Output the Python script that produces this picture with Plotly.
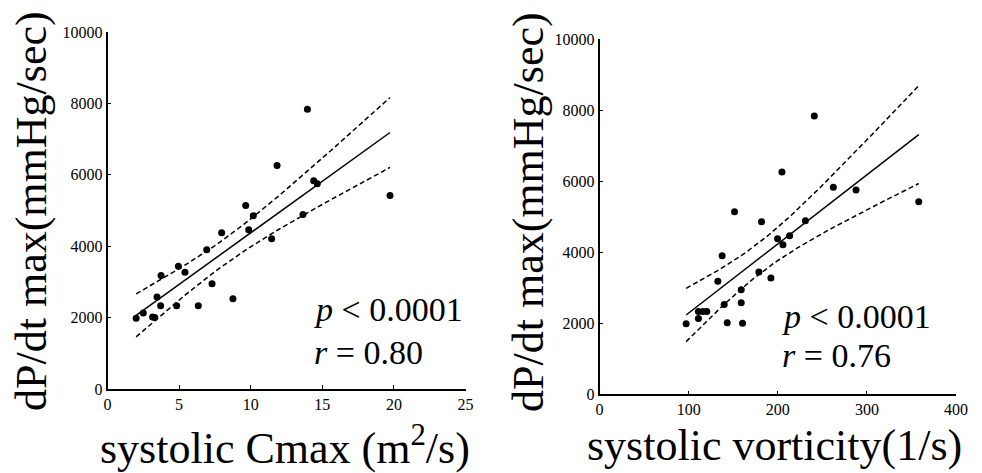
import numpy as np
import plotly.graph_objects as go

# dP/dt max (mmHg/sec), same subjects in both panels
dpdt = [1985, 2130, 2015, 2000, 2580, 2330, 2330, 2330, 3180, 3440, 3270, 3900, 2945,
        4380, 2525, 5140, 4460, 4855, 4210, 6260, 4885, 7835, 5830, 5750, 5420]
# systolic Cmax (m^2/s)
cmax = [2.0, 2.5, 3.15, 3.3, 3.46, 3.71, 4.83, 6.34, 3.74, 4.95, 5.41, 6.93, 7.30,
        7.97, 8.76, 9.65, 9.86, 10.18, 11.46, 11.84, 13.65, 13.96, 14.40, 14.65, 19.73]
# systolic vorticity (1/s)
vort = [97.2, 111.0, 143.3, 160.5, 159.0, 111.0, 116.0, 120.4, 132.8, 178.8, 192.3, 137.6, 159.0,
        199.8, 139.9, 151.5, 213.3, 181.8, 205.8, 204.7, 231.0, 241.0, 262.4, 287.8, 358.2]

stats_left = ["<i>p</i> &lt; 0.0001", "<i>r</i> = 0.80"]
stats_right = ["<i>p</i> &lt; 0.0001", "<i>r</i> = 0.76"]

FONT = "Liberation Serif, Times New Roman, Times, serif"
T_CRIT = 2.069  # t(0.975, df=23)


def fit_with_ci(x, y):
    x = np.asarray(x, float)
    y = np.asarray(y, float)
    n = len(x)
    b, a = np.polyfit(x, y, 1)
    resid = y - (a + b * x)
    s = np.sqrt(np.sum(resid ** 2) / (n - 2))
    sxx = np.sum((x - x.mean()) ** 2)
    xs = np.linspace(x.min(), x.max(), 60)
    yh = a + b * xs
    half = T_CRIT * s * np.sqrt(1.0 / n + (xs - x.mean()) ** 2 / sxx)
    return xs, yh, yh - half, yh + half


fig = go.Figure()

for xv, xa, ya in [(cmax, "x", "y"), (vort, "x2", "y2")]:
    xs, yh, lo, hi = fit_with_ci(xv, dpdt)
    fig.add_trace(go.Scatter(x=xs, y=yh, mode="lines", xaxis=xa, yaxis=ya,
                             line=dict(color="black", width=1.5), showlegend=False, hoverinfo="skip"))
    for band in (lo, hi):
        fig.add_trace(go.Scatter(x=xs, y=band, mode="lines", xaxis=xa, yaxis=ya,
                                 line=dict(color="black", width=1.5, dash="5px,3px"),
                                 showlegend=False, hoverinfo="skip"))
    fig.add_trace(go.Scatter(x=xv, y=dpdt, mode="markers", xaxis=xa, yaxis=ya,
                             marker=dict(color="black", size=7), showlegend=False))

axis_common = dict(showgrid=False, zeroline=False, showline=True, linecolor="black", linewidth=1.5,
                   ticks="inside", ticklen=4, tickcolor="black", tickwidth=1.2, tickformat="d",
                   automargin=False,
                   tickfont=dict(family=FONT, size=16, color="black"))

fig.update_layout(
    width=982, height=473,
    margin=dict(l=0, r=0, t=0, b=0, pad=0, autoexpand=False),
    paper_bgcolor="white", plot_bgcolor="white",
    font=dict(family=FONT, color="black"),
    xaxis=dict(domain=[107.5 / 982, 465.5 / 982], range=[0, 25], dtick=5, anchor="y", **axis_common),
    yaxis=dict(domain=[84 / 473, 441 / 473], range=[0, 10000], dtick=2000, anchor="x", **axis_common),
    xaxis2=dict(domain=[599.5 / 982, 956 / 982], range=[0, 400], dtick=100, anchor="y2", **axis_common),
    yaxis2=dict(domain=[78.7 / 473, 434 / 473], range=[0, 10000], dtick=2000, anchor="x2", **axis_common),
)

ann = []
# statistics text
for (xa, ya, xpos, y1, y2, txt) in [("x", "y", 14.3, 2220, 1036, stats_left),
                                    ("x2", "y2", 202.5, 2177, 1079, stats_right)]:
    ann.append(dict(xref=xa, yref=ya, x=xpos, y=y1, text=txt[0], showarrow=False,
                    xanchor="left", yanchor="middle", font=dict(family=FONT, size=34, color="black")))
    ann.append(dict(xref=xa, yref=ya, x=xpos, y=y2, text=txt[1], showarrow=False,
                    xanchor="left", yanchor="middle", font=dict(family=FONT, size=34, color="black")))

# axis titles
ann.append(dict(xref="paper", yref="paper", x=285 / 982, y=(473 - 445) / 473,
                text="systolic Cmax (m<sup>2</sup>/s)", showarrow=False,
                xanchor="center", yanchor="middle", font=dict(family=FONT, size=44, color="black")))
ann.append(dict(xref="paper", yref="paper", x=774 / 982, y=(473 - 445) / 473,
                text="systolic vorticity(1/s)", showarrow=False,
                xanchor="center", yanchor="middle", font=dict(family=FONT, size=44, color="black")))
ann.append(dict(xref="paper", yref="paper", x=32 / 982, y=(473 - 211) / 473,
                text="dP/dt max(mmHg/sec)", showarrow=False, textangle=-90,
                xanchor="center", yanchor="middle", font=dict(family=FONT, size=44, color="black")))
ann.append(dict(xref="paper", yref="paper", x=529 / 982, y=(473 - 212) / 473,
                text="dP/dt max(mmHg/sec)", showarrow=False, textangle=-90,
                xanchor="center", yanchor="middle", font=dict(family=FONT, size=44, color="black")))

fig.update_layout(annotations=ann)

fig.write_html("out.html", config={"displayModeBar": False},
               post_script="document.body.style.margin='0';document.body.style.overflow='hidden';")
